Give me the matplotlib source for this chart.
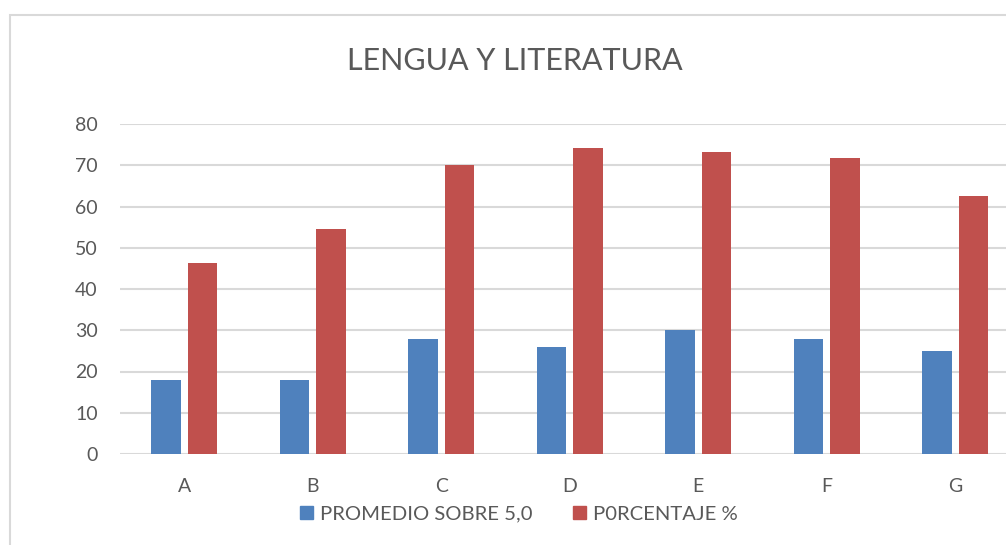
import matplotlib.pyplot as plt
import numpy as np
from matplotlib.patches import Rectangle, Patch

# datos del grafico
categorias = ["A", "B", "C", "D", "E", "F", "G"]
promedio = [18, 18, 28, 26, 30, 28, 25]
porcentaje = [46.2, 54.5, 70, 74.3, 73.1, 71.7, 62.5]
titulo = "LENGUA Y LITERATURA"
nombres = ["PROMEDIO SOBRE 5,0", "P0RCENTAJE %"]

plt.rcParams['font.family'] = ['Lato', 'DejaVu Sans']
gris = "#595959"
azul = "#4f81bd"
rojo = "#c0504d"

W, H = 1006, 545
fig = plt.figure(figsize=(W / 100, H / 100), dpi=100)

# borde del area del grafico (se sale por la derecha y por abajo)
fig.patches.append(Rectangle((9.5 / W, -0.1), 1.2, 1 - 14.5 / H + 0.1,
                             transform=fig.transFigure, fill=False,
                             edgecolor="#d9d9d9", linewidth=1.5))

ax = fig.add_axes([120 / W, 91 / H, 899.5 / W, 330 / H])
x = np.arange(len(categorias))
ancho = 0.226
ax.bar(x - 0.142, promedio, ancho, color=azul, zorder=3)
ax.bar(x + 0.142, porcentaje, ancho, color=rojo, zorder=3)

ax.set_xlim(-0.5, len(categorias) - 0.5)
ax.set_ylim(0, 80)
ax.set_yticks(range(0, 81, 10))
ax.set_xticks(x)
ax.set_xticklabels(categorias)
ax.tick_params(length=0, labelsize=14, colors=gris)
ax.tick_params(axis="y", pad=16)
ax.tick_params(axis="x", pad=17)
ax.grid(axis="y", color="#d9d9d9", linewidth=1.5, zorder=0)
for s in ax.spines.values():
    s.set_visible(False)

fig.text(515 / W, 1 - 61 / H, titulo, ha="center", va="center",
         fontsize=22, color=gris)

handles = [Patch(color=azul), Patch(color=rojo)]
fig.legend(handles, nombres, loc="center", bbox_to_anchor=(519 / W, 1 - 514 / H),
           ncol=2, frameon=False, fontsize=14.6, labelcolor=gris,
           handlelength=0.65, handleheight=0.65, handletextpad=0.35,
           columnspacing=2.0)

fig.savefig("out.png", dpi=100)
